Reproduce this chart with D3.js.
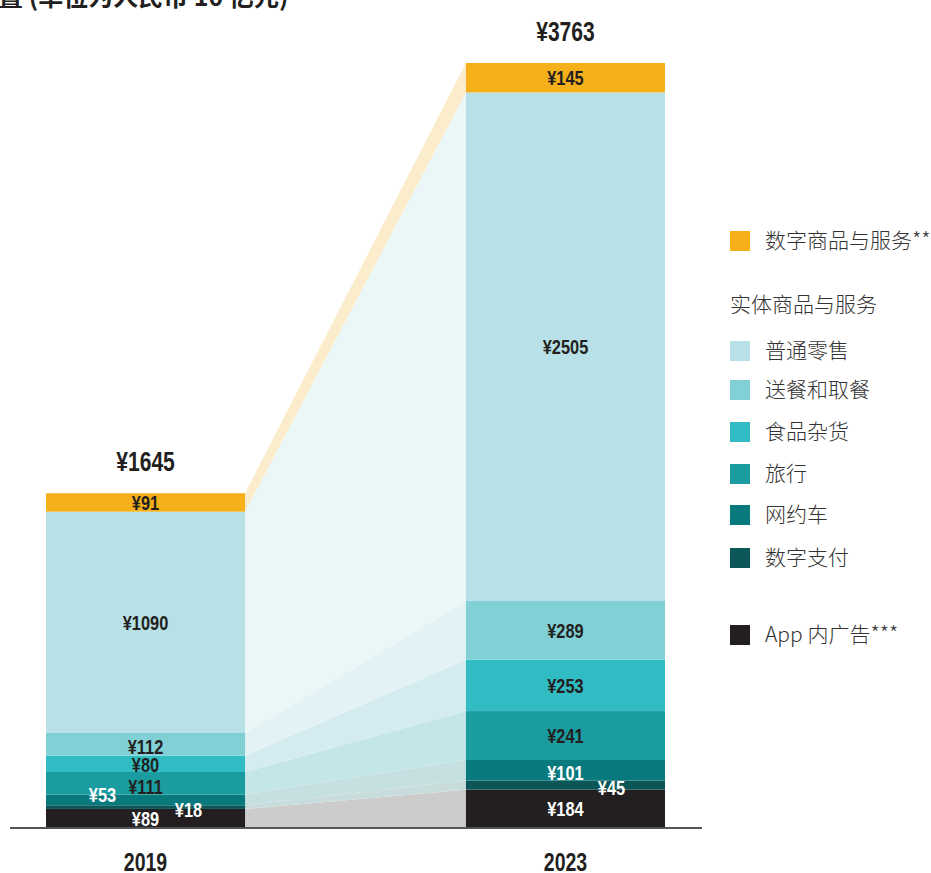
<!DOCTYPE html>
<html>
<head>
<meta charset="utf-8">
<script src="https://cdn.jsdelivr.net/npm/d3@7"></script>
<style>
  body { margin: 0; background: #fff; }
  svg { display: block; }
  .num { font-family: "Liberation Sans", Arial, sans-serif; font-weight: bold; }
  .cjk { font-family: "Noto Sans CJK SC", "Noto Sans", sans-serif; }
</style>
</head>
<body>
<div id="chart"></div>
<script>
// 年份 & 分项（自下而上堆叠）
const years = ['2019', '2023'];
const segments = ['App 内广告***', '数字支付', '网约车', '旅行', '食品杂货', '送餐和取餐', '普通零售', '数字商品与服务**'];
const values2019 = [89, 18, 53, 111, 80, 112, 1090, 91];
const values2023 = [184, 45, 101, 241, 253, 289, 2505, 145];
const totals = [1645, 3763];
const title = '置 (单位为人民币 10 亿元)';

const colors = ['#231f20', '#0b5758', '#087a7e', '#1a9ca0', '#31bcc3', '#80d0d5', '#b7e1e6', '#f5b01a'];
const bandColors = ['#cccccc', '#c9dcdc', '#c6dfe1', '#c4e6e9', '#d4ecf0', '#e2f2f5', '#ebf7f7', '#fbedcc'];
const labelColors = ['#fff', '#fff', '#fff', '#231f20', '#231f20', '#231f20', '#231f20', '#231f20'];

const W = 931, H = 873;
const svg = d3.select('#chart').append('svg').attr('width', W).attr('height', H);

const x = d3.scaleBand().domain(years).range([46, 665]).paddingInner(0.526).paddingOuter(0);
const y = d3.scaleLinear().domain([0, 3763]).range([827, 63]);

const series = [values2019, values2023];
const stacked = series.map(vals => {
  let acc = 0;
  return vals.map(v => { const s = { y0: acc, y1: acc + v, v }; acc += v; return s; });
});

// condensed look: squeeze Liberation Sans bold horizontally
function numLabel(parent, px, py, size, fill, txt) {
  parent.append('g')
    .attr('transform', `translate(${px},${py}) scale(0.78,1)`)
    .append('text')
    .attr('class', 'num')
    .attr('dy', '0.36em')
    .attr('text-anchor', 'middle')
    .attr('font-size', size)
    .attr('fill', fill)
    .text(txt);
}

// connecting bands
const x0 = x('2019') + x.bandwidth(), x1 = x('2023');
segments.forEach((s, i) => {
  const a = stacked[0][i], b = stacked[1][i];
  svg.append('path')
    .attr('d', `M${x0},${y(a.y1)}L${x1},${y(b.y1)}L${x1},${y(b.y0)}L${x0},${y(a.y0)}Z`)
    .attr('fill', bandColors[i]);
});

// bars
years.forEach((yr, j) => {
  svg.append('g').selectAll('rect')
    .data(stacked[j])
    .join('rect')
    .attr('x', x(yr))
    .attr('width', x.bandwidth())
    .attr('y', d => y(d.y1))
    .attr('height', d => y(d.y0) - y(d.y1))
    .attr('fill', (d, i) => colors[i]);
});

// axis line
svg.append('line').attr('x1', 10).attr('x2', 702).attr('y1', 828).attr('y2', 828)
  .attr('stroke', '#555').attr('stroke-width', 2);

// segment labels; small segments are nudged aside
const nudge = {
  '2019': { 1: [43, 2], 2: [-43, -5], 3: [0, 3], 4: [0, 1], 5: [0, 2] },
  '2023': { 1: [46, 2], 2: [0, 2] }
};
const lbl = svg.append('g');
years.forEach((yr, j) => {
  const cx = x(yr) + x.bandwidth() / 2;
  stacked[j].forEach((d, i) => {
    const n = nudge[yr][i] || [0, 0];
    numLabel(lbl, cx + n[0], (y(d.y0) + y(d.y1)) / 2 + n[1], 21, labelColors[i], '¥' + d.v);
  });
  numLabel(lbl, cx, y(totals[j]) - 32, 27, '#231f20', '¥' + totals[j]);
  numLabel(lbl, cx, 862, 25, '#231f20', yr);
});

// title (cut at top edge)
svg.append('text').attr('class', 'cjk')
  .attr('x', -2).attr('y', 6)
  .attr('font-size', 25).attr('font-weight', 'bold').attr('fill', '#231f20')
  .text(title);

// legend
const legendRows = [
  { i: 7, y: 241 },
  { header: '实体商品与服务', y: 305 },
  { i: 6, y: 351 }, { i: 5, y: 390 }, { i: 4, y: 432 },
  { i: 3, y: 474 }, { i: 2, y: 515 }, { i: 1, y: 558 },
  { i: 0, y: 635 }
];
const lg = svg.append('g');
legendRows.forEach(r => {
  if (r.header) {
    lg.append('text').attr('class', 'cjk').attr('x', 730).attr('y', r.y)
      .attr('dy', '0.35em').attr('font-size', 21).attr('font-weight', 300)
      .attr('fill', '#333').text(r.header);
    return;
  }
  lg.append('rect').attr('x', 730).attr('y', r.y - 10).attr('width', 20).attr('height', 20)
    .attr('fill', colors[r.i]);
  lg.append('text').attr('class', 'cjk').attr('x', 765).attr('y', r.y)
    .attr('dy', '0.35em').attr('font-size', 21).attr('font-weight', 300)
    .attr('fill', '#333').text(segments[r.i]);
});
</script>
</body>
</html>
